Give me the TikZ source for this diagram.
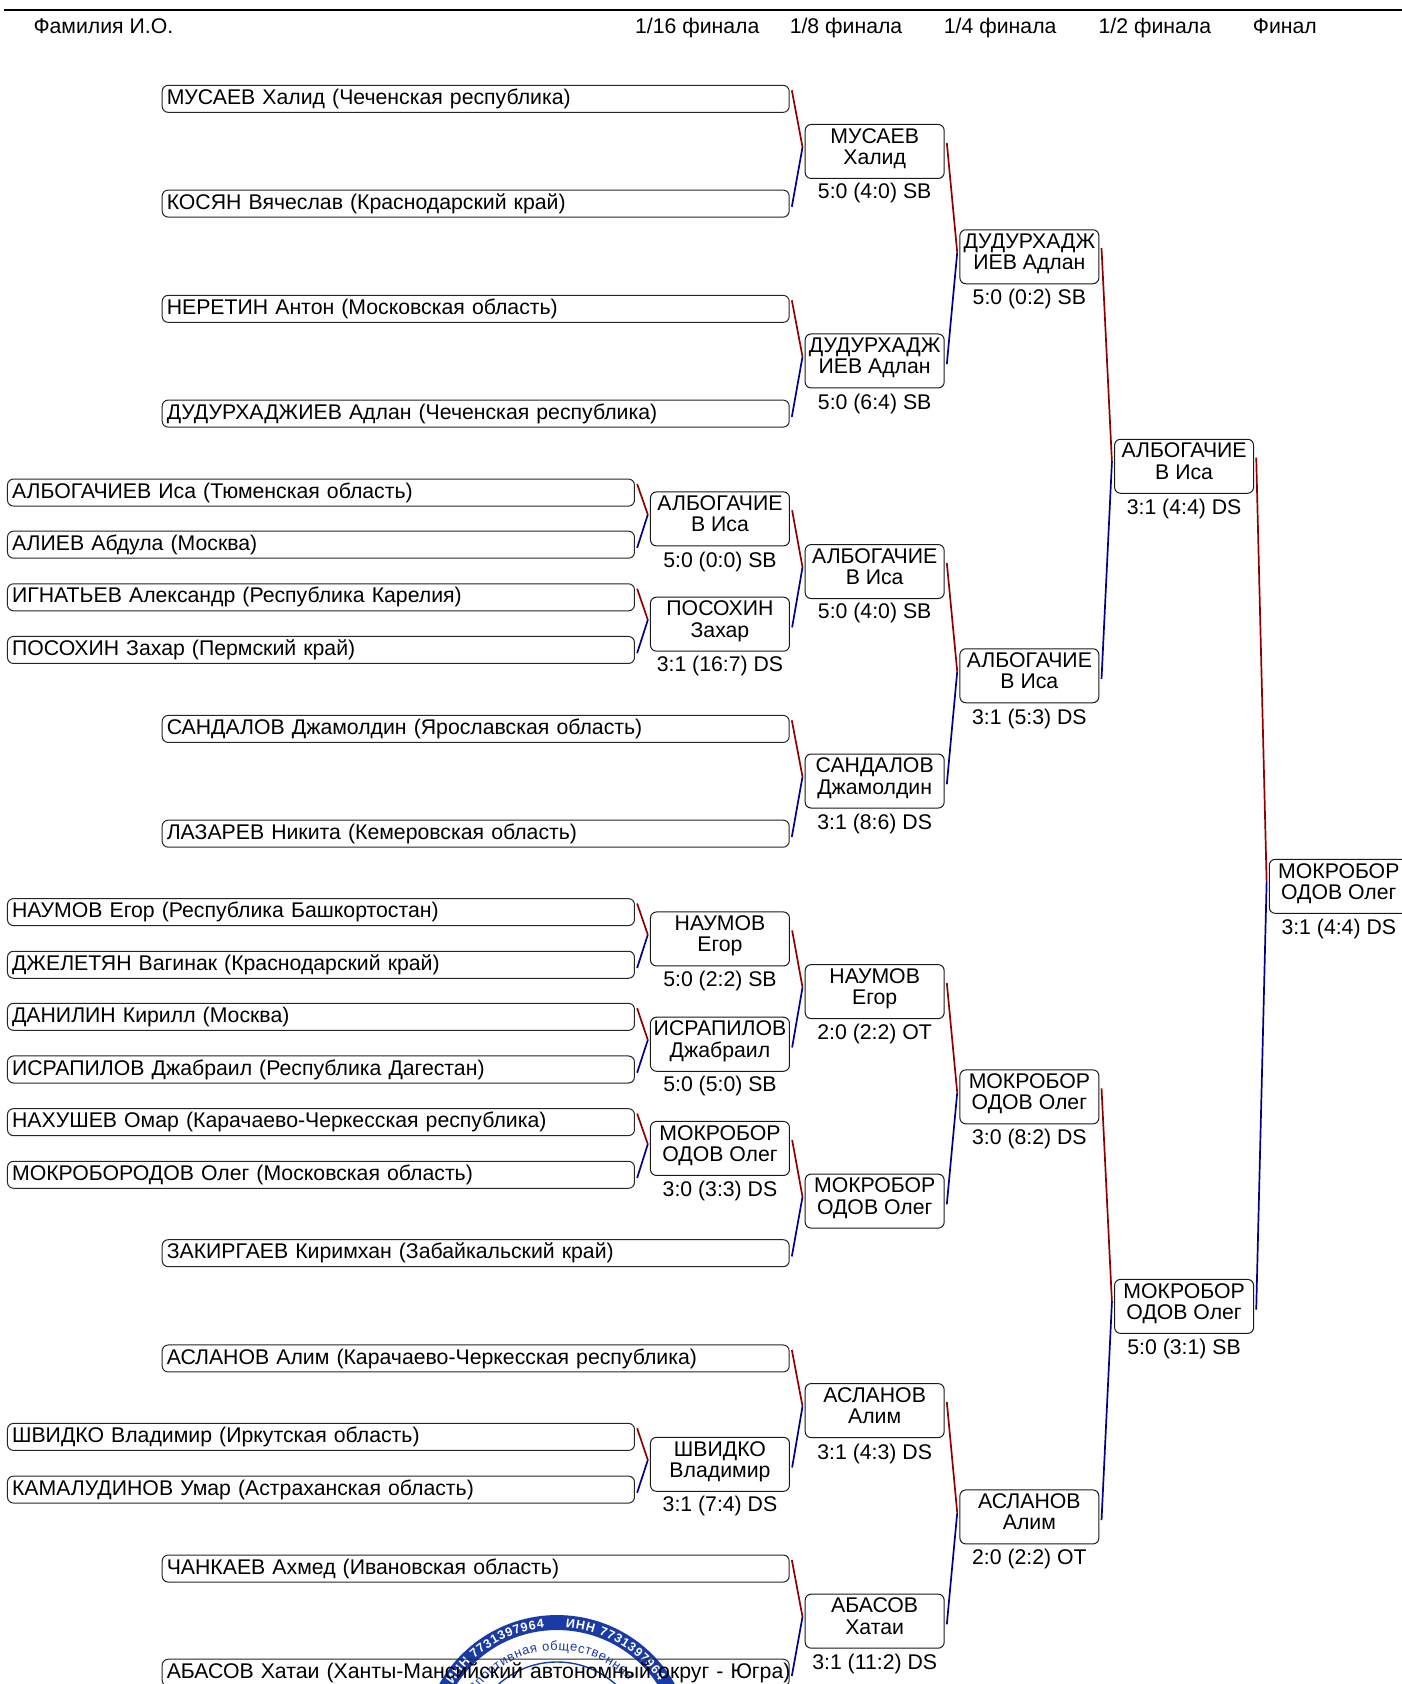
\documentclass[tikz,border=0pt]{standalone}
\usepackage{fontspec}
\setmainfont{Liberation Sans}
\usetikzlibrary{calc,decorations.text}
\definecolor{wred}{HTML}{900000}
\definecolor{wblue}{HTML}{000088}
\definecolor{seal}{HTML}{1A3BA6}
\tikzset{
  x=1.07433pt,y=-1.07433pt,
  namebox/.style={draw=black!85,line width=1pt,rounded corners=6pt,minimum width=627pt,minimum height=27pt,inner sep=0pt,text width=627pt,align=left,font=\fontsize{21.25}{21.25}\selectfont,anchor=west},
  winbox/.style={draw=black!90,line width=1pt,rounded corners=6pt,inner sep=0pt,anchor=north west},
  scoretext/.style={font=\fontsize{21.25}{21.25}\selectfont,inner sep=0pt},
  headtext/.style={font=\fontsize{21.25}{21.25}\selectfont,inner sep=0pt,anchor=base},
  redline/.style={draw=wred,line width=1.7pt},
  blueline/.style={draw=wblue,line width=1.7pt},
}
\newcommand{\pname}[4]{\node[namebox] (#1) at (#2,#3) {\hspace*{4.6pt}\mbox{#4}};}
\newcommand{\wboxn}[5]{%
  \node[winbox] (#1) at (#2,#3-0.6) {\parbox[c][54pt][t]{139pt}{\centering\fontsize{21.25}{21.25}\selectfont\vspace*{3.9pt}#4\\#5}};}
\newcommand{\wbox}[7]{%
  \wboxn{#1}{#2}{#3}{#4}{#5}
  \node[scoretext] (#1s) at ($(#1.north)+(0,#6+0.6)$) {#7};}
\newcommand{\joint}[3]{%
  \draw[redline] ($(#1.east)+(2,-8)$) -- ($(#3.west)+(-2,-4)$);
  \draw[blueline] ($(#2.east)+(2,3)$) -- ($(#3.west)+(-2,-4)$);}
\begin{document}
\begin{tikzpicture}
\useasboundingbox (0,0) rectangle (1305,1567.5);
\clip (0,0) rectangle (1305,1567.5);
\fill[white] (0,0) rectangle (1305,1567.5);
% seal
\begin{scope}[shift={(518.5,1629)}]
\draw[seal,line width=15pt] (0,0) circle (118.7);
\draw[seal,line width=1.4pt] (0,0) circle (82);
\path[decorate,decoration={text along path,text align={fit to path},text color=white,text={|\bfseries\fontsize{12.5}{12.5}\selectfont|ИНН 7731397964}}] (-148:114.5) arc[start angle=-148,end angle=-96,radius=114.5];
\path[decorate,decoration={text along path,text align={fit to path},text color=white,text={|\bfseries\fontsize{12.5}{12.5}\selectfont|ИНН 7731397964}}] (-86:114.5) arc[start angle=-86,end angle=-34,radius=114.5];
\path[decorate,decoration={text along path,text align={fit to path},text color=seal,text={|\fontsize{13}{13}\selectfont|Спортивная общественная}}] (-146:93) arc[start angle=-146,end angle=-44,radius=93];
\end{scope}
% header
\coordinate (rulea) at (4,9.5);
\coordinate (ruleb) at (1305,9.5);
\draw[line width=1.6pt] (rulea) -- (ruleb);
\node[headtext,anchor=base west] (h0) at (31,31.5) {Фамилия И.О.};
\node[headtext] (h1) at (649,31.5) {1/16 финала};
\node[headtext] (h2) at (787.5,31.5) {1/8 финала};
\node[headtext] (h3) at (931,31.5) {1/4 финала};
\node[headtext] (h4) at (1075,31.5) {1/2 финала};
\node[headtext] (h5) at (1196,31.5) {Финал};
% participants
\pname{a1}{150.5}{92}{МУСАЕВ Халид (Чеченская республика)}
\pname{a2}{150.5}{189.5}{КОСЯН Вячеслав (Краснодарский край)}
\pname{a3}{150.5}{287.5}{НЕРЕТИН Антон (Московская область)}
\pname{a4}{150.5}{385}{ДУДУРХАДЖИЕВ Адлан (Чеченская республика)}
\pname{b1}{6.5}{458.5}{АЛБОГАЧИЕВ Иса (Тюменская область)}
\pname{b2}{6.5}{507}{АЛИЕВ Абдула (Москва)}
\pname{b3}{6.5}{556}{ИГНАТЬЕВ Александр (Республика Карелия)}
\pname{b4}{6.5}{605}{ПОСОХИН Захар (Пермский край)}
\pname{a5}{150.5}{678.5}{САНДАЛОВ Джамолдин (Ярославская область)}
\pname{a6}{150.5}{776}{ЛАЗАРЕВ Никита (Кемеровская область)}
\pname{b5}{6.5}{849}{НАУМОВ Егор (Республика Башкортостан)}
\pname{b6}{6.5}{898}{ДЖЕЛЕТЯН Вагинак (Краснодарский край)}
\pname{b7}{6.5}{946.5}{ДАНИЛИН Кирилл (Москва)}
\pname{b8}{6.5}{995.5}{ИСРАПИЛОВ Джабраил (Республика Дагестан)}
\pname{b9}{6.5}{1044.5}{НАХУШЕВ Омар (Карачаево-Черкесская республика)}
\pname{b10}{6.5}{1093.5}{МОКРОБОРОДОВ Олег (Московская область)}
\pname{a7}{150.5}{1166.5}{ЗАКИРГАЕВ Киримхан (Забайкальский край)}
\pname{a8}{150.5}{1264.5}{АСЛАНОВ Алим (Карачаево-Черкесская республика)}
\pname{b11}{6.5}{1337.5}{ШВИДКО Владимир (Иркутская область)}
\pname{b12}{6.5}{1386.5}{КАМАЛУДИНОВ Умар (Астраханская область)}
\pname{a9}{150.5}{1460}{ЧАНКАЕВ Ахмед (Ивановская область)}
\pname{a10}{150.5}{1557}{АБАСОВ Хатаи (Ханты-Мансийский автономный округ - Югра)}
% 1/16
\wbox{c1}{605}{458}{АЛБОГАЧИЕ}{В Иса}{65}{5:0 (0:0) SB}
\wbox{c2}{605}{556}{ПОСОХИН}{Захар}{64}{3:1 (16:7) DS}
\wbox{c3}{605}{849}{НАУМОВ}{Егор}{64}{5:0 (2:2) SB}
\wbox{c4}{605}{947}{ИСРАПИЛОВ}{Джабраил}{64}{5:0 (5:0) SB}
\wbox{c5}{605}{1044}{МОКРОБОР}{ОДОВ Олег}{65}{3:0 (3:3) DS}
\wbox{c6}{605}{1338}{ШВИДКО}{Владимир}{64}{3:1 (7:4) DS}
% 1/8
\wbox{d1}{749}{116}{МУСАЕВ}{Халид}{64}{5:0 (4:0) SB}
\wbox{d2}{749}{311}{ДУДУРХАДЖ}{ИЕВ Адлан}{65}{5:0 (6:4) SB}
\wbox{d3}{749}{507}{АЛБОГАЧИЕ}{В Иса}{64}{5:0 (4:0) SB}
\wbox{d4}{749}{702}{САНДАЛОВ}{Джамолдин}{65}{3:1 (8:6) DS}
\wbox{d5}{749}{898}{НАУМОВ}{Егор}{64}{2:0 (2:2) OT}
\wboxn{d6}{749}{1093}{МОКРОБОР}{ОДОВ Олег}
\wbox{d7}{749}{1288}{АСЛАНОВ}{Алим}{65}{3:1 (4:3) DS}
\wbox{d8}{749}{1484}{АБАСОВ}{Хатаи}{65}{3:1 (11:2) DS}
% 1/4
\wbox{e1}{893}{214}{ДУДУРХАДЖ}{ИЕВ Адлан}{64}{5:0 (0:2) SB}
\wbox{e2}{893}{604}{АЛБОГАЧИЕ}{В Иса}{65}{3:1 (5:3) DS}
\wbox{e3}{893}{996}{МОКРОБОР}{ОДОВ Олег}{64}{3:0 (8:2) DS}
\wbox{e4}{893}{1387}{АСЛАНОВ}{Алим}{64}{2:0 (2:2) OT}
% 1/2
\wbox{f1}{1037}{409}{АЛБОГАЧИЕ}{В Иса}{65}{3:1 (4:4) DS}
\wbox{f2}{1037}{1191}{МОКРОБОР}{ОДОВ Олег}{65}{5:0 (3:1) SB}
% final
\wbox{g1}{1181}{800}{МОКРОБОР}{ОДОВ Олег}{65}{3:1 (4:4) DS}
% connectors
\joint{a1}{a2}{d1}
\joint{a3}{a4}{d2}
\joint{b1}{b2}{c1}
\joint{b3}{b4}{c2}
\joint{c1}{c2}{d3}
\joint{a5}{a6}{d4}
\joint{b5}{b6}{c3}
\joint{b7}{b8}{c4}
\joint{b9}{b10}{c5}
\joint{c3}{c4}{d5}
\joint{c5}{a7}{d6}
\joint{b11}{b12}{c6}
\joint{a8}{c6}{d7}
\joint{a9}{a10}{d8}
\joint{d1}{d2}{e1}
\joint{d3}{d4}{e2}
\joint{d5}{d6}{e3}
\joint{d7}{d8}{e4}
\joint{e1}{e2}{f1}
\joint{e3}{e4}{f2}
\joint{f1}{f2}{g1}
\end{tikzpicture}
\end{document}
